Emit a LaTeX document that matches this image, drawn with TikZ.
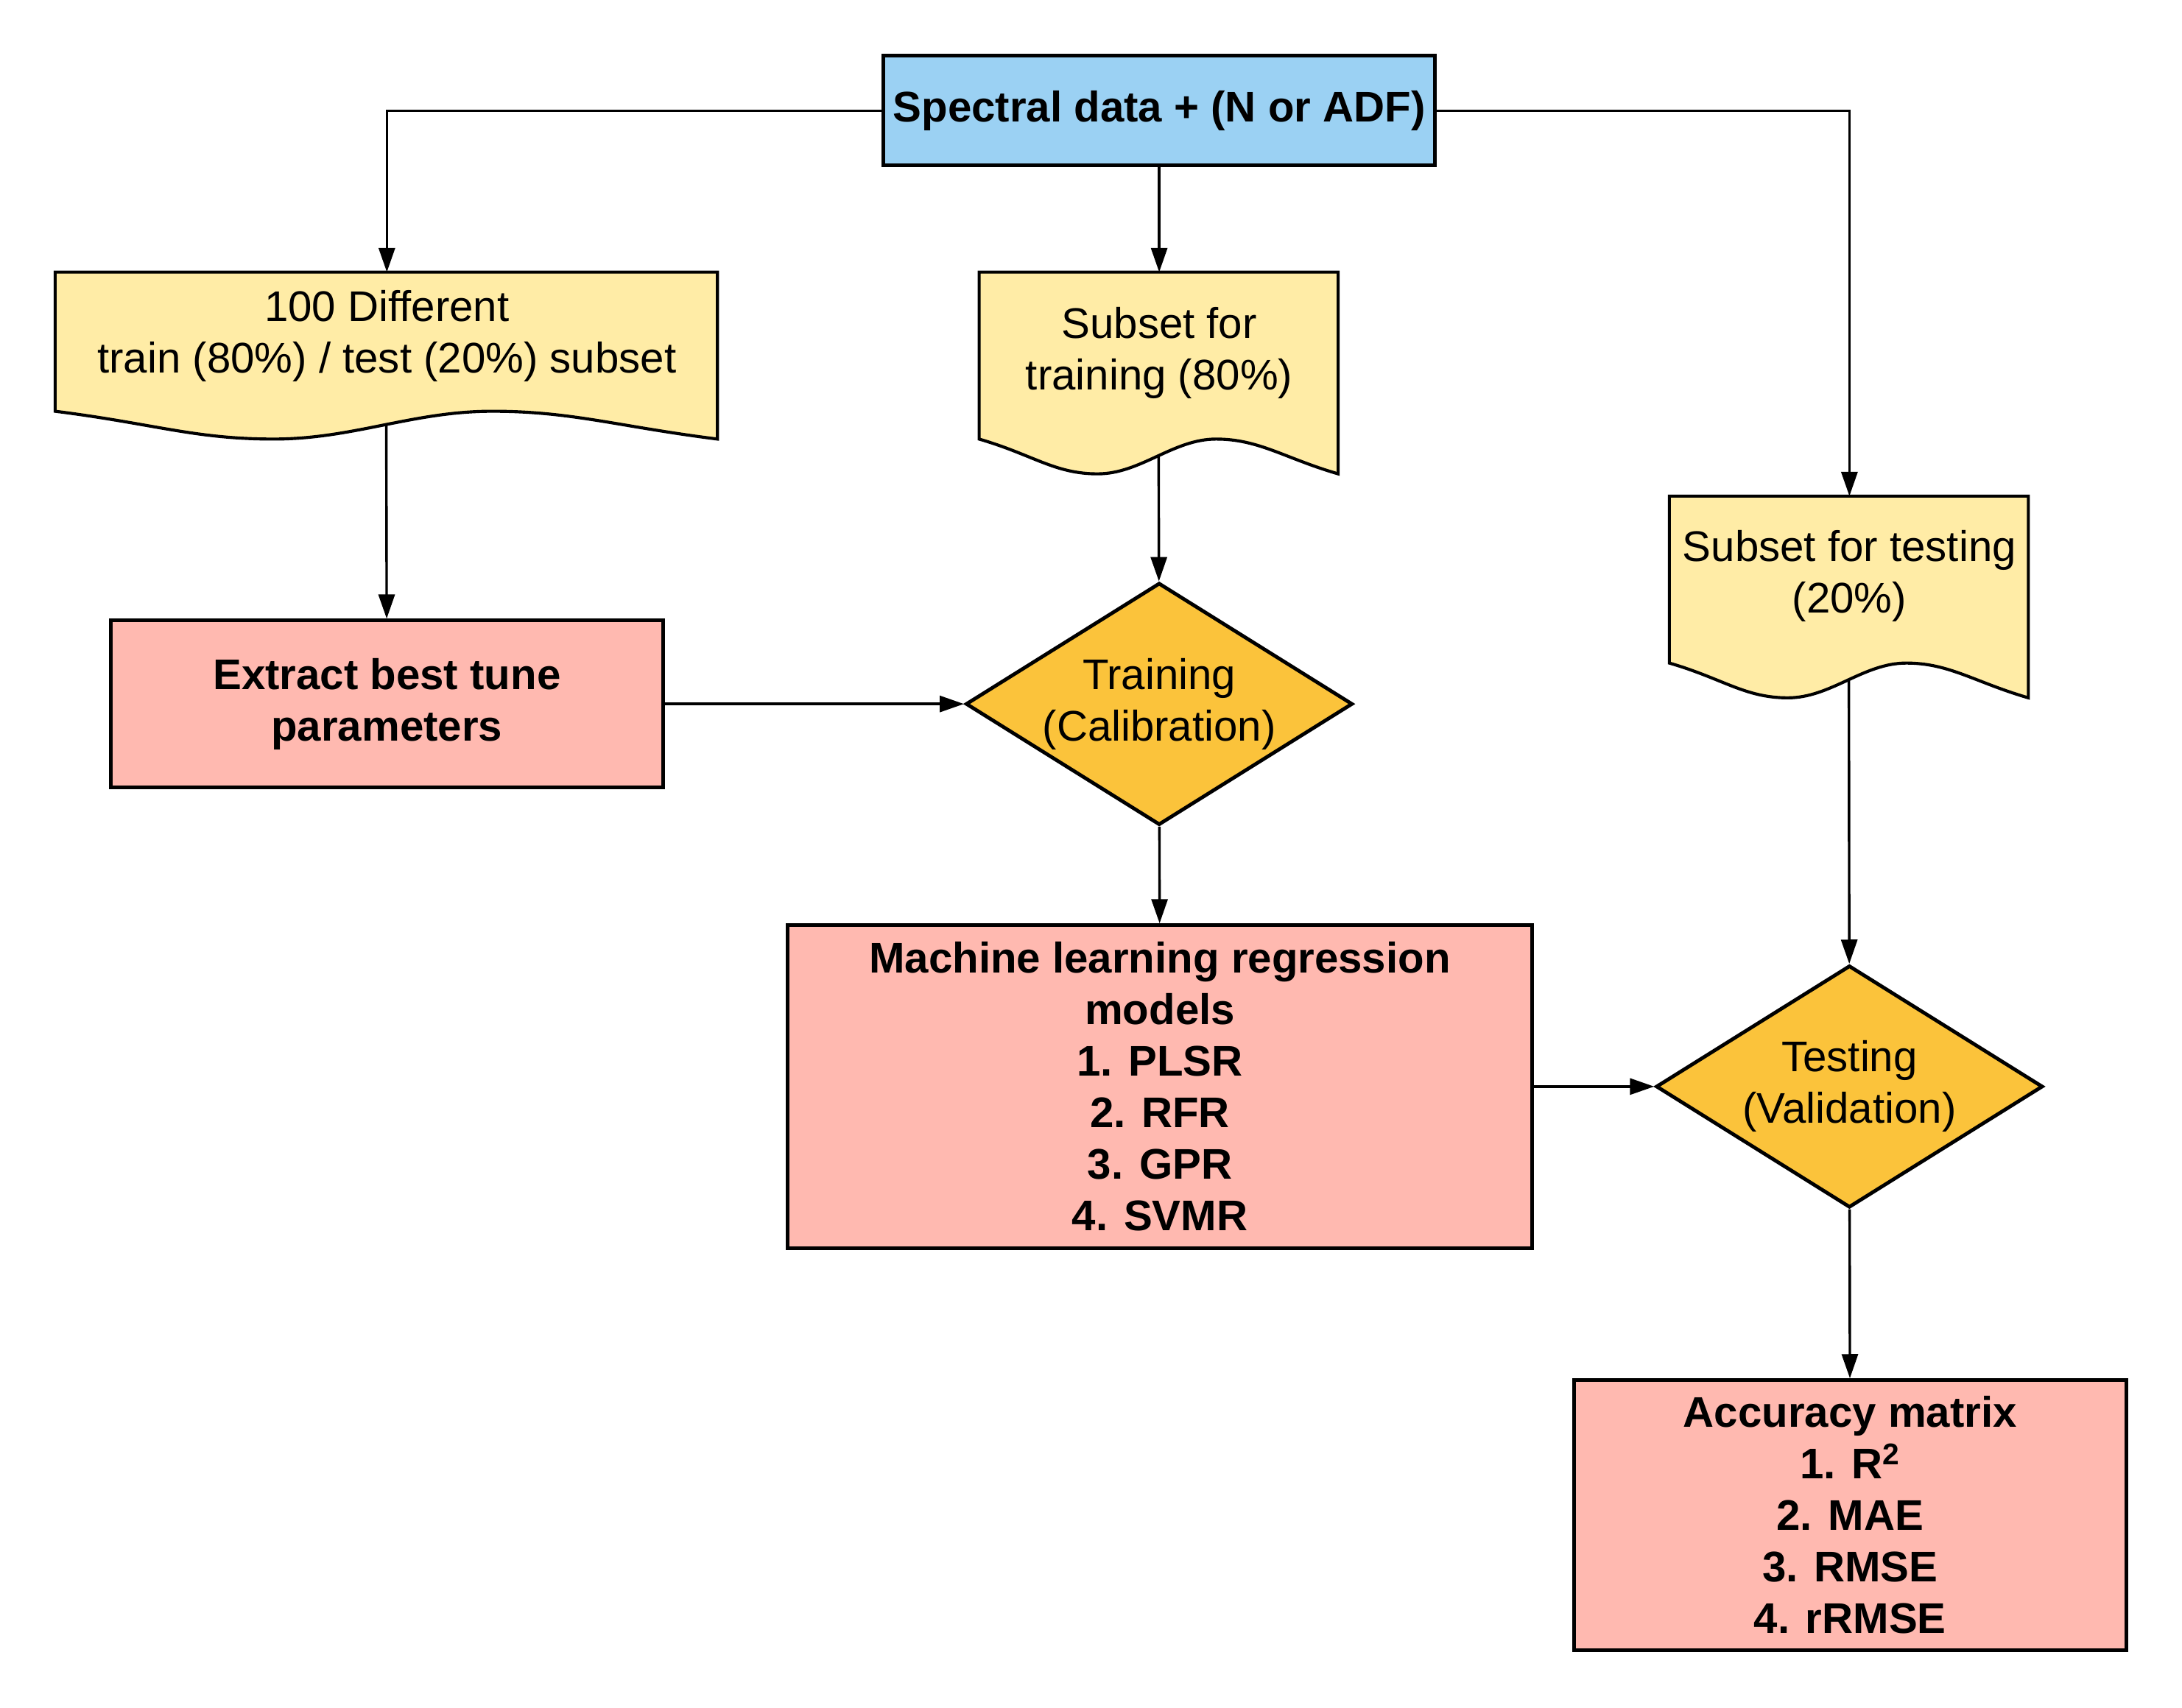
\documentclass[tikz,border=0pt]{standalone}
\usepackage{fontspec}
\setmainfont{Liberation Sans}
\usepackage{tikz}
\usetikzlibrary{shapes.geometric,arrows.meta,positioning,calc,backgrounds}

% document shape with a wavy bottom, drawn behind a node
% #1 node, #2 width, #3 depth to trough, #4 wave height (all in px)
\newcommand{\docwave}[4]{%
  \path (#1.north west) coordinate (#1-tl);
  \begin{scope}[on background layer]
    \draw[docline] (#1-tl) -- ($(#1-tl)+(#2,0)$) -- ($(#1-tl)+(#2,#3)$)
      .. controls ($(#1-tl)+(0.85*#2,#3-0.45*#4)$) and ($(#1-tl)+(0.78*#2,#3-#4)$) .. ($(#1-tl)+(0.66*#2,#3-#4)$)
      .. controls ($(#1-tl)+(0.54*#2,#3-#4)$) and ($(#1-tl)+(0.45*#2,#3)$) .. ($(#1-tl)+(0.33*#2,#3)$)
      .. controls ($(#1-tl)+(0.21*#2,#3)$) and ($(#1-tl)+(0.15*#2,#3-0.55*#4)$) .. ($(#1-tl)+(0,#3-#4)$) -- cycle;
  \end{scope}
  \coordinate (#1-out) at ($(#1-tl)+(0.5*#2,#3-0.5*#4)$);
}

\begin{document}
\begin{tikzpicture}[
            x=0.5pt, y=-0.5pt,
            >={Triangle[length=8.7pt,width=5.8pt]},
            flow/.style={->,line width=0.9pt},
            txt/.style={font=\fontsize{15.4}{18.5}\selectfont, align=center},
            block/.style={txt,rectangle,draw,line width=1.3pt,font=\fontsize{15.4}{18.5}\selectfont\bfseries},
            docnode/.style={txt,rectangle,inner sep=0pt},
            docline/.style={draw,line width=1.1pt,fill=docyellow},
            decision/.style={txt,diamond,draw,line width=1.3pt,fill=decorange,
                aspect=1.6,inner sep=0pt,minimum width=139pt,minimum height=87pt}
        ]

        % Define colors
        \definecolor{datablue}{RGB}{155,209,243}
        \definecolor{docyellow}{RGB}{255,236,166}
        \definecolor{decorange}{RGB}{251,195,59}
        \definecolor{boxsalmon}{RGB}{255,185,176}

        \useasboundingbox (0,0) rectangle (1568,1227.2);

        % Input data
        \node[block,fill=datablue,minimum width=198pt,minimum height=39.5pt] (source) at (833,79.5)
            {Spectral data + (N or ADF)};

        % Subsets
        \node[docnode,minimum width=238pt,minimum height=45.5pt] (split) at (278,241.5)
            {100 Different\\train (80\%) / test (20\%) subset};
        \docwave{split}{476}{120}{20}
        \node[docnode,minimum width=129pt,minimum height=57.5pt] (trainset) at (833,253.5)
            {Subset for\\training (80\%)};
        \docwave{trainset}{258}{145}{25}
        \node[docnode,minimum width=129pt,minimum height=57pt] (testset) at (1329,414)
            {Subset for testing\\(20\%)};
        \docwave{testset}{258}{145}{25}

        % Process steps
        \node[block,fill=boxsalmon,minimum width=198.5pt,minimum height=60pt] (tune) at (278,506)
            {Extract best tune\\parameters};
        \node[decision] (training) at (833,506) {Training\\(Calibration)};
        \node[block,fill=boxsalmon,minimum width=267.5pt,minimum height=116pt] (models) at (833.5,781)
            {Machine learning regression\\models\\1. PLSR\\2. RFR\\3. GPR\\4. SVMR};
        \node[decision] (testing) at (1329,781) {Testing\\(Validation)};
        \node[block,fill=boxsalmon,minimum width=198.5pt,minimum height=97pt] (accuracy) at (1329.5,1089)
            {Accuracy matrix\\1. R\textsuperscript{2}\\2. MAE\\3. RMSE\\4. rRMSE};

        % Draw the connectors
        \draw[flow] (source.west) -| (split.north);
        \draw[flow] (source) -- (trainset.north);
        \draw[flow] (source.east) -| (testset.north);
        \draw[flow] (split-out) -- (tune);
        \draw[flow] (trainset-out) -- (training);
        \draw[flow] (testset-out) -- (testing);
        \draw[flow] (tune) -- (training);
        \draw[flow] (training) -- (models);
        \draw[flow] (models) -- (testing);
        \draw[flow] (testing) -- (accuracy);

\end{tikzpicture}
\end{document}
